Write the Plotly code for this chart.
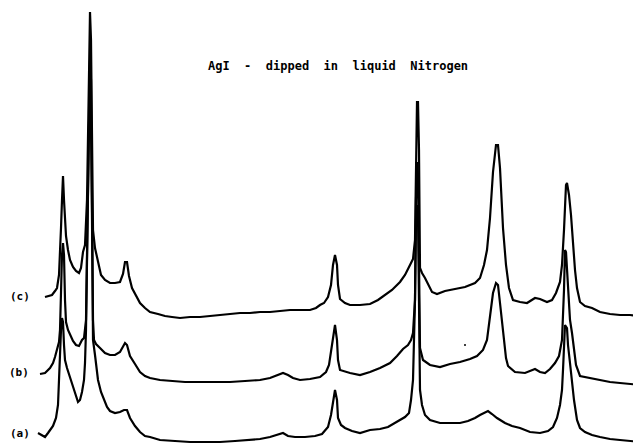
import plotly.graph_objects as go

# Digitised XRD scans of AgI dipped in liquid nitrogen (arbitrary channel / count units)
# Trace (c) - top
c_x = [45,52,55,57,59,60,61,62,63,64,65,66,68,70,73,76,79,81,83,85,87,88,89,90,91,92,93,95,97,99,101,105,110,115,120,123,125,127,129,132,136,140,145,150,158,165,172,180,190,200,210,220,230,240,250,260,270,280,290,300,310,316,320,324,328,331,333,335,337,338,340,345,350,360,370,378,385,392,400,405,410,413,415,416,417,418,419,420,422,425,428,432,437,445,455,465,475,480,484,487,490,493,496,498,500,503,506,509,513,520,527,535,540,547,552,556,560,562,564,566,567,569,571,573,575,577,580,585,592,600,610,620,630,641]
c_y = [297,295,291,288,275,240,228,200,176,200,228,236,250,260,267,271,273,268,252,245,200,120,40,12,40,150,230,248,258,268,275,280,283,283,282,274,262,262,276,288,296,303,308,312,314,316,317,318,317,317,316,315,314,313,313,312,312,311,310,310,310,308,305,303,297,285,265,255,265,285,299,303,305,305,304,300,295,290,282,275,265,259,240,150,102,102,150,268,273,278,284,292,294,291,289,287,283,278,265,250,218,172,145,145,168,228,265,288,300,302,303,298,299,302,300,293,282,265,230,185,183,195,215,247,270,288,302,306,308,312,314,315,315,316]

# Trace (b) - middle
b_x = [40,45,50,53,55,57,59,60,61,62,63,64,65,66,68,70,73,76,79,82,84,86,87,88,89,90,91,92,93,94,96,100,105,110,115,120,123,125,127,130,135,140,145,150,160,170,185,200,215,230,245,260,270,278,283,288,293,300,310,320,326,329,331,333,335,337,338,340,350,360,370,380,390,397,403,408,411,413,415,416,417,418,419,420,423,430,440,450,460,470,477,483,487,490,493,496,498,500,503,506,508,515,525,530,535,540,545,550,555,559,562,564,565,566,568,570,572,574,576,580,590,600,610,620,630,641]
b_y = [374,373,368,363,357,350,342,330,290,255,243,255,300,322,330,334,341,345,346,340,338,320,250,150,80,60,80,200,320,340,344,348,353,355,355,352,346,343,345,356,364,372,376,378,380,381,382,382,382,382,381,380,378,375,373,375,378,380,379,377,372,365,350,335,325,340,360,370,373,375,372,368,363,356,349,345,340,333,300,200,162,175,260,348,360,365,367,364,362,359,356,350,340,318,293,283,285,303,330,358,366,372,373,371,369,372,373,369,363,356,340,290,250,252,290,320,333,350,365,376,378,380,382,383,384,385]

# Trace (a) - bottom
a_x = [38,42,45,48,50,53,56,58,59,60,61,62,63,64,65,67,70,73,76,78,80,82,84,85,86,87,88,89,90,91,92,93,95,98,101,104,107,110,115,120,124,127,130,135,140,145,150,160,175,190,205,220,235,250,260,270,277,283,288,295,305,315,322,328,331,333,335,337,338,341,345,352,360,370,380,388,395,400,405,409,411,413,415,416,417,418,419,420,422,425,430,440,450,460,468,475,480,485,488,492,497,505,512,520,530,540,548,553,557,560,562,563,564,565,567,568,570,572,574,577,580,585,592,600,610,620,630,641]
a_y = [433,435,437,433,430,426,418,405,380,350,330,318,322,345,360,368,377,386,396,402,400,392,380,363,330,250,160,125,112,125,220,340,355,380,392,400,407,411,413,412,410,410,418,426,432,436,437,440,441,442,442,442,441,440,439,437,435,433,436,437,437,436,434,427,415,400,390,400,418,425,428,431,433,430,429,427,423,420,417,413,400,380,300,220,205,215,300,390,405,415,420,423,423,423,421,418,415,412,411,414,418,423,426,428,432,433,431,427,418,405,390,370,343,325,328,345,363,385,400,420,428,432,435,437,439,440,441,442]

# stray speck on the chart
speck_x = [465]
speck_y = [345]

labels = ["(c)", "(b)", "(a)"]
label_x = [20, 19, 20]
label_y = [296, 372, 433]

title_text = "AgI\u00a0\u00a0-\u00a0\u00a0dipped\u00a0\u00a0in\u00a0\u00a0liquid\u00a0\u00a0Nitrogen"

H = 445  # image height used to flip the digitised (top-down) readings into intensities
PAGE_OFF = 8  # browser default body margin


def inten(vals):
    return [H - v for v in vals]


fig = go.Figure()
for xs, ys in [(a_x, a_y), (b_x, b_y), (c_x, c_y)]:
    fig.add_trace(go.Scatter(x=xs, y=inten(ys), mode="lines",
                             line=dict(color="black", width=2.2),
                             hoverinfo="skip", showlegend=False))
fig.add_trace(go.Scatter(x=speck_x, y=inten(speck_y), mode="markers",
                         marker=dict(color="black", size=2),
                         hoverinfo="skip", showlegend=False))

for t, lx, ly in zip(labels, label_x, label_y):
    fig.add_annotation(x=lx, y=H - ly, text="<b>" + t + "</b>", showarrow=False,
                       font=dict(family="DejaVu Sans Mono", size=11, color="black"),
                       xanchor="center", yanchor="middle")

fig.add_annotation(x=338, y=H - 66, text="<b>" + title_text + "</b>", showarrow=False,
                   font=dict(family="DejaVu Sans Mono", size=12, color="black"),
                   xanchor="center", yanchor="middle")

fig.update_layout(
    width=641 - PAGE_OFF, height=445 - PAGE_OFF,
    margin=dict(l=0, r=0, t=0, b=0),
    paper_bgcolor="white", plot_bgcolor="white",
    xaxis=dict(range=[PAGE_OFF, 641], visible=False, fixedrange=True),
    yaxis=dict(range=[0, H - PAGE_OFF], visible=False, fixedrange=True),
)

fig.write_html("out.html")
